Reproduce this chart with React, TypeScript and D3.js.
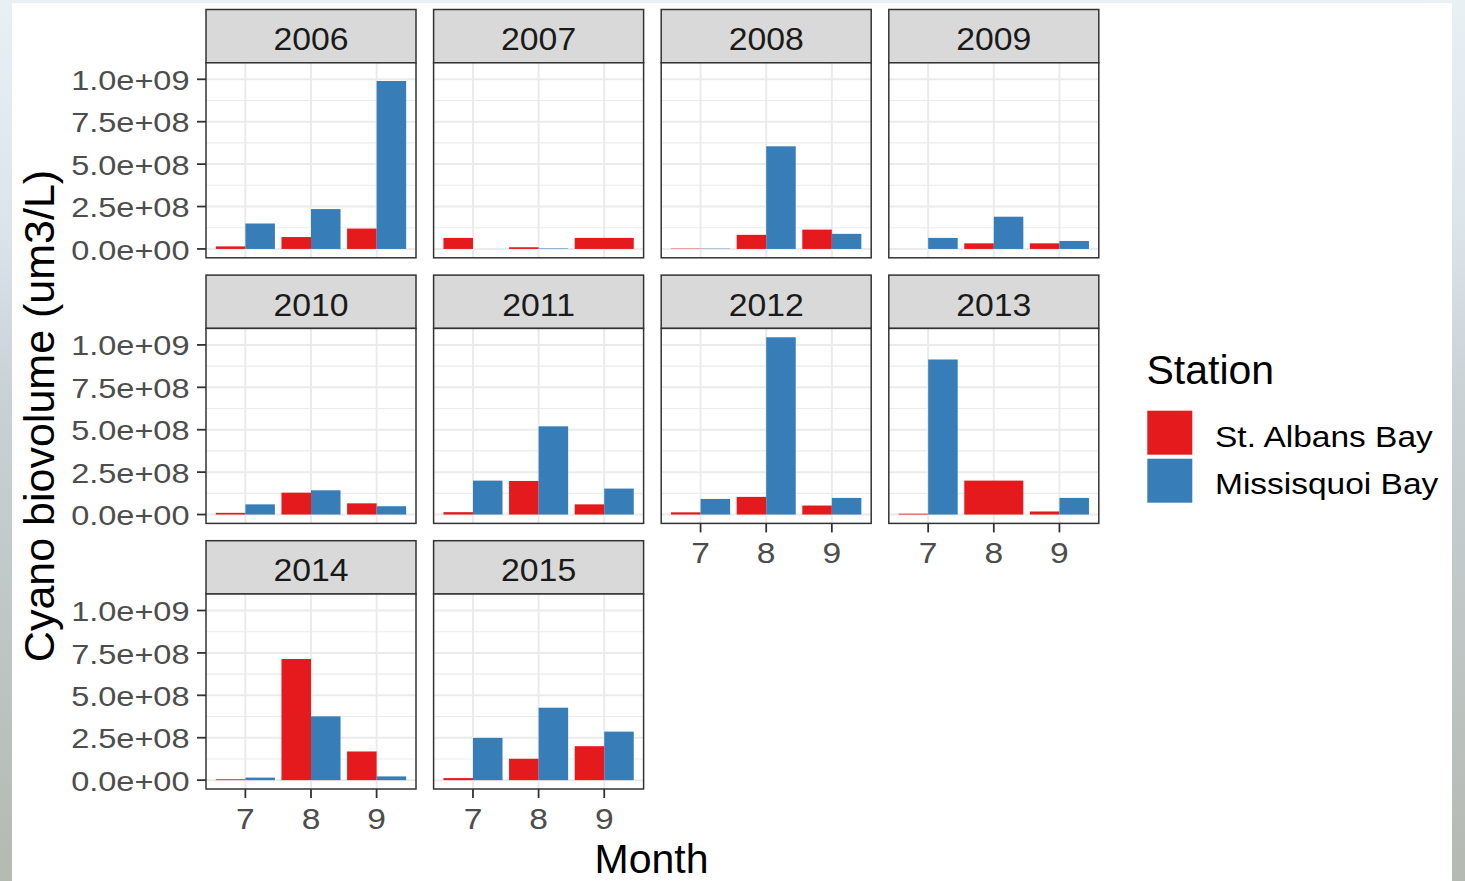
import React from 'react';
import * as d3 from 'd3';

// Monthly cyanobacteria biovolume (um3/L) by year and station
const years = ['2006', '2007', '2008', '2009', '2010', '2011', '2012', '2013', '2014', '2015'];
const months = [7, 8, 9];
const stations = ['St. Albans Bay', 'Missisquoi Bay'];
const stationColors = ['#E41A1C', '#377EB8'];

// values per year (rows) for months 7, 8, 9; null = no sample that month
const stAlbansBay: (number | null)[][] = [
  [1.5e7, 7.0e7, 1.2e8],
  [6.5e7, 1.0e7, 6.5e7],
  [2.0e6, 8.3e7, 1.14e8],
  [0, 3.3e7, 3.3e7],
  [1.0e7, 1.29e8, 6.6e7],
  [1.4e7, 1.98e8, 6.0e7],
  [1.3e7, 1.04e8, 5.3e7],
  [5.0e6, 2.0e8, 1.8e7],
  [5.0e6, 7.14e8, 1.69e8],
  [1.2e7, 1.26e8, 2.0e8],
];
const missisquoiBay: (number | null)[][] = [
  [1.5e8, 2.35e8, 9.9e8],
  [0, 3.0e6, null],
  [2.0e6, 6.05e8, 8.9e7],
  [6.5e7, 1.9e8, 4.7e7],
  [6.0e7, 1.43e8, 4.9e7],
  [2.0e8, 5.2e8, 1.53e8],
  [9.2e7, 1.045e9, 9.8e7],
  [9.14e8, null, 9.8e7],
  [1.5e7, 3.76e8, 2.2e7],
  [2.49e8, 4.27e8, 2.86e8],
];

const yTicks = [0, 2.5e8, 5e8, 7.5e8, 1e9];
const yTickLabels = ['0.0e+00', '2.5e+08', '5.0e+08', '7.5e+08', '1.0e+09'];
const monthLabels = ['7', '8', '9'];

const FONT = '"Liberation Sans", Arial, Helvetica, sans-serif';
const NCOL = 4;
const PANEL_X0 = 206;
const COL_PITCH = 227.6;
const PANEL_W = 210;
const STRIP_Y0 = 9.5;
const ROW_PITCH = 265.6;
const STRIP_H = 53.3;
const PANEL_H = 195;
const GRID = '#EBEBEB';
const DARK = '#333333';

const seriesByStation = [stAlbansBay, missisquoiBay];

// text with a slight horizontal widening of the glyphs
function WideText(props: {
  x: number;
  y: number;
  sx: number;
  size: number;
  fill: string;
  anchor?: 'start' | 'middle' | 'end';
  children: React.ReactNode;
}) {
  const { x, y, sx, size, fill, anchor = 'start', children } = props;
  return (
    <text
      transform={`translate(${x},${y}) scale(${sx},1)`}
      textAnchor={anchor}
      fontSize={size}
      fill={fill}
      fontFamily={FONT}
    >
      {children}
    </text>
  );
}

export default function App() {
  const allValues = seriesByStation.flatMap((s) => s.flat()).filter((v): v is number => v != null);
  const ymax = d3.max(allValues) as number;
  const y = d3.scaleLinear().domain([-0.05 * ymax, 1.05 * ymax]).range([PANEL_H, 0]);
  const x = d3.scaleLinear().domain([0.4, 3.6]).range([0, PANEL_W]);
  const minorTicks = d3.pairs(yTicks).map(([a, b]) => (a + b) / 2);
  const barSpan = 0.9;

  const panels = years.map((year, i) => {
    const row = Math.floor(i / NCOL);
    const col = i % NCOL;
    const left = PANEL_X0 + col * COL_PITCH;
    const stripTop = STRIP_Y0 + row * ROW_PITCH;
    const top = stripTop + STRIP_H;
    const hasBottomAxis = i + NCOL >= years.length;
    const hasLeftAxis = col === 0;

    const bars: { key: string; x0: number; x1: number; v: number; color: string }[] = [];
    months.forEach((m, j) => {
      const present = stations
        .map((s, k) => ({ k, v: seriesByStation[k][i][j] }))
        .filter((d) => d.v != null) as { k: number; v: number }[];
      const w = barSpan / present.length;
      present.forEach((d, n) => {
        const start = j + 1 - barSpan / 2 + n * w;
        bars.push({ key: `${m}-${d.k}`, x0: start, x1: start + w, v: d.v, color: stationColors[d.k] });
      });
    });

    return (
      <g key={year}>
        {/* strip */}
        <rect x={left} y={stripTop} width={PANEL_W} height={STRIP_H} fill="#D9D9D9" stroke={DARK} strokeWidth={1.5} />
        <WideText x={left + PANEL_W / 2} y={stripTop + 40.5} sx={1.09} size={31} fill="#1A1A1A" anchor="middle">
          {year}
        </WideText>
        <g transform={`translate(${left},${top})`}>
          <rect width={PANEL_W} height={PANEL_H} fill="#FFFFFF" />
          {minorTicks.map((t) => (
            <line key={`mn${t}`} x1={0} x2={PANEL_W} y1={y(t)} y2={y(t)} stroke={GRID} strokeWidth={1.1} />
          ))}
          {yTicks.map((t) => (
            <line key={`mj${t}`} x1={0} x2={PANEL_W} y1={y(t)} y2={y(t)} stroke={GRID} strokeWidth={2} />
          ))}
          {months.map((m, j) => (
            <line key={`v${m}`} x1={x(j + 1)} x2={x(j + 1)} y1={0} y2={PANEL_H} stroke={GRID} strokeWidth={2} />
          ))}
          {bars.map((b) => (
            <rect
              key={b.key}
              x={x(b.x0)}
              width={x(b.x1) - x(b.x0)}
              y={Math.min(y(b.v), y(0))}
              height={Math.abs(y(0) - y(b.v))}
              fill={b.color}
            />
          ))}
          <rect width={PANEL_W} height={PANEL_H} fill="none" stroke={DARK} strokeWidth={1.5} />
          {hasLeftAxis &&
            yTicks.map((t, k) => (
              <g key={`yt${t}`}>
                <line x1={-9} x2={0} y1={y(t)} y2={y(t)} stroke={DARK} strokeWidth={1.8} />
                <WideText x={-16.5} y={y(t) + 10.6} sx={1.14} size={28.5} fill="#4D4D4D" anchor="end">
                  {yTickLabels[k]}
                </WideText>
              </g>
            ))}
          {hasBottomAxis &&
            months.map((m, j) => (
              <g key={`xt${m}`}>
                <line x1={x(j + 1)} x2={x(j + 1)} y1={PANEL_H} y2={PANEL_H + 9} stroke={DARK} strokeWidth={1.8} />
                <WideText x={x(j + 1)} y={PANEL_H + 39.5} sx={1.12} size={30} fill="#4D4D4D" anchor="middle">
                  {monthLabels[j]}
                </WideText>
              </g>
            ))}
        </g>
      </g>
    );
  });

  return (
    <svg
      width={1465}
      height={881}
      style={{ position: 'fixed', left: 0, top: 0, display: 'block' }}
      xmlns="http://www.w3.org/2000/svg"
    >
      <defs>
        <linearGradient id="backdrop" x1="0" y1="0" x2="0" y2="1">
          <stop offset="0%" stopColor="#E8F0F4" />
          <stop offset="25%" stopColor="#DCE5EA" />
          <stop offset="45%" stopColor="#C9D1D5" />
          <stop offset="75%" stopColor="#BEC4C2" />
          <stop offset="100%" stopColor="#B4B9B2" />
        </linearGradient>
      </defs>
      <rect width={1465} height={881} fill="url(#backdrop)" />
      <rect x={12} y={3} width={1440} height={878} fill="#FFFFFF" />

      {panels}

      {/* axis titles */}
      <text x={651.5} y={872.5} textAnchor="middle" fontSize={41} fill="#000000" fontFamily={FONT}>
        Month
      </text>
      <text
        transform="translate(54,416) rotate(-90)"
        textAnchor="middle"
        fontSize={43}
        fill="#000000"
        fontFamily={FONT}
      >
        Cyano biovolume (um3/L)
      </text>

      {/* legend */}
      <text x={1146.5} y={383.5} fontSize={41} fill="#000000" fontFamily={FONT}>
        Station
      </text>
      {stations.map((s, k) => (
        <g key={s}>
          <rect x={1147.3} y={410.7 + k * 48} width={45} height={44} fill={stationColors[k]} />
          <WideText x={1215} y={446.5 + k * 47.5} sx={1.155} size={29} fill="#000000">
            {s}
          </WideText>
        </g>
      ))}
    </svg>
  );
}
